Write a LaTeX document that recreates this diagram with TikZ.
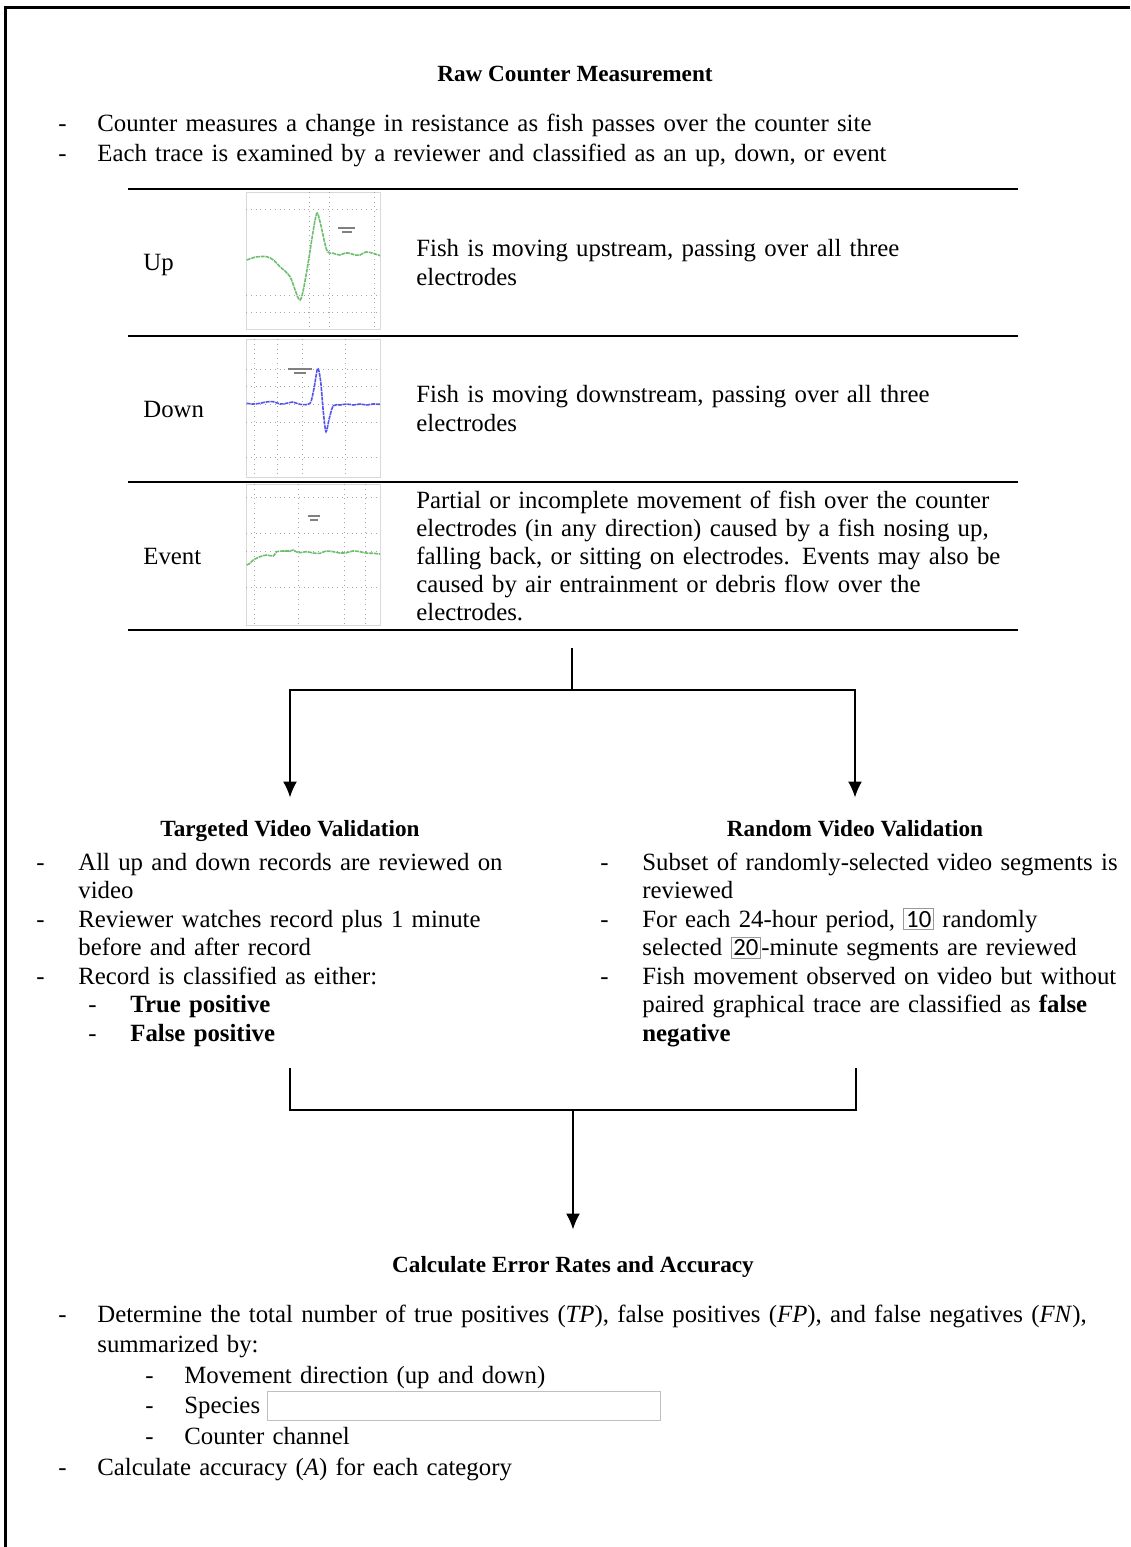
\documentclass[tikz,border=0pt]{standalone}
\usepackage{fontspec}
\setmainfont{Liberation Serif}
\setsansfont{Carlito}
\usepackage{tikz}
\usetikzlibrary{arrows,arrows.meta,shapes,positioning}
\usetikzlibrary{calc}
\tikzstyle{heading}    = [anchor=base, font=\fontsize{11.6}{14}\selectfont\bfseries, inner sep=0pt, text height=7pt, text depth=2pt]
\tikzstyle{bodytext}   = [anchor=base west, inner sep=0pt, align=left, text width=560pt, font=\fontsize{12.4}{14.5}\selectfont]
\tikzstyle{tablerule}  = [line width=0.75pt]
\tikzstyle{frameline}  = [line width=1.5pt]
\tikzstyle{link}       = [line width=1pt]
\tikzstyle{arrow}      = [line width=1pt, -{Latex[length=8pt,width=7pt]}]
\tikzstyle{tracebox}   = [rectangle, draw=black!15, line width=0.5pt, minimum width=67pt, inner sep=0pt]
\tikzstyle{gridline}   = [black!35, dotted, line width=0.4pt]
\tikzstyle{tracecurve} = [line width=0.8pt, dashed, dash pattern=on 2pt off 0.4pt]
\tikzstyle{tracelabel} = [black!50, line width=0.6pt]
\definecolor{traceup}{RGB}{110,190,110}
\definecolor{tracedown}{RGB}{85,85,235}
\newcommand{\dashitem}[2][19.5pt]{\hangindent=#1\hangafter=1\noindent\makebox[#1][l]{-}#2\par}
\newcommand{\subdash}[3]{\noindent\hspace*{#1}\makebox[#2][l]{-}#3\par}
\newcommand{\numbox}[1]{{\setlength{\fboxsep}{1pt}\setlength{\fboxrule}{0.4pt}\color{black!40}\fbox{\color{black}\sffamily #1}}}

\begin{document}
\begin{tikzpicture}[x=0.5pt, y=-0.5pt]
            \useasboundingbox (0,0) rectangle (1130,1547);
            \draw [frameline] (5,1547) -- (5,7) -- (1130,7);
            %Raw counter part
            \node (rawhead) [heading] at (575,81) {Raw Counter Measurement};
            \node (rawlist) [bodytext, font=\fontsize{12.4}{15}\selectfont] at (58,131) {%
              \dashitem{Counter measures a change in resistance as fish passes over the counter site}%
              \dashitem{Each trace is examined by a reviewer and classified as an up, down, or event}};
            \foreach \y in {189,336,482,630}
              \draw [tablerule] (128,\y) -- (1018,\y);
            \node (uplabel)    [bodytext] at (143,270) {Up};
            \node (downlabel)  [bodytext] at (143,417) {Down};
            \node (eventlabel) [bodytext] at (143,564) {Event};
            \node (updesc)     [bodytext] at (416,256) {Fish is moving upstream, passing over all three\\electrodes};
            \node (downdesc)   [bodytext] at (416,402) {Fish is moving downstream, passing over all three\\electrodes};
            \node (eventdesc)  [bodytext, font=\fontsize{12.4}{14.1}\selectfont] at (416,508) {Partial or incomplete movement of fish over the counter\\electrodes (in any direction) caused by a fish nosing up,\\falling back, or sitting on electrodes. Events may also be\\caused by air entrainment or debris flow over the\\electrodes.};
            %Trace pictures
            \node (uptrace)    [tracebox, minimum height=68.5pt] at (313,260.5) {};
            \node (downtrace)  [tracebox, minimum height=69pt]   at (313,408)   {};
            \node (eventtrace) [tracebox, minimum height=70.5pt] at (313,554.5) {};
            \foreach \y in {209,295,312} \draw [gridline] (246,\y) -- (380,\y);
            \foreach \x in {309,329,374} \draw [gridline] (\x,192) -- (\x,329);
            \draw [tracelabel] (338,228) -- (355,228) (342,232) -- (352,232);
            \draw [tracecurve, traceup] plot[smooth, tension=0.5] coordinates {(246.7,260) (256,257) (266.7,256.7) (273.3,260) (280,266.7) (290,276.7) (298.3,298.3) (301.7,296.7) (306.7,271.7) (316,215.7) (320,221.7) (326.7,250) (333.3,253.3) (340,255) (345,253) (350,253.3) (355,255) (360,255) (366,252) (373.3,253.3) (380,255.7)};
            \foreach \y in {369,386.7,404.3,422.3,457.7} \draw [gridline] (246,\y) -- (380,\y);
            \foreach \x in {254,277.3,302.7,345} \draw [gridline] (\x,339) -- (\x,477);
            \draw [tracelabel] (288,369) -- (312,369) (294,373) -- (306,373);
            \draw [tracecurve, tracedown] plot[smooth, tension=0.5] coordinates {(246.7,403.3) (253,404) (260,403.3) (266,402) (273.3,401.7) (280,404) (286.7,403.3) (293,402) (300,404.3) (310,403.3) (314,388.3) (317.7,368.3) (320.7,381.7) (323.3,411.7) (326,431.7) (329.3,418.3) (333.3,405.7) (340,405) (347,404) (353.3,405) (360,404) (366.7,405) (373,404) (380,404.3)};
            \foreach \y in {497.3,533.3,551.7,587.3} \draw [gridline] (246,\y) -- (380,\y);
            \foreach \x in {254,298.3,344,365} \draw [gridline] (\x,484) -- (\x,625);
            \draw [tracelabel] (308,516) -- (320,516) (310,520) -- (318,520);
            \draw [tracecurve, traceup] plot[smooth, tension=0.5] coordinates {(246.7,565) (250,563.3) (253.3,560) (260,556.7) (266.7,555) (273.3,556) (276.7,551.7) (283,551) (290,551) (293.3,550) (298.3,552.7) (306.7,551.7) (313,553) (320,553.3) (326,551) (333.3,551.7) (340,553) (346.7,552.7) (353,551) (360,551.7) (366,553) (373.3,553.3) (380,554)};
            %Split to the two validations
            \node (targethead) [heading] at (290,836) {Targeted Video Validation};
            \node (randomhead) [heading] at (855,836) {Random Video Validation};
            \coordinate (tablebottom) at (572,648);
            \coordinate (splitmid)    at (572,690);
            \draw [link] (tablebottom) -- (splitmid);
            \draw [arrow, shorten >=12pt] (splitmid) -| (targethead.north);
            \draw [arrow, shorten >=12pt] (splitmid) -| (randomhead.north);
            \node (targetlist) [bodytext, font=\fontsize{12.4}{14.25}\selectfont] at (36,870) {%
              \dashitem[21pt]{All up and down records are reviewed on\newline video}%
              \dashitem[21pt]{Reviewer watches record plus 1 minute\newline before and after record}%
              \dashitem[21pt]{Record is classified as either:}%
              \subdash{26pt}{21pt}{\textbf{True positive}}%
              \subdash{26pt}{21pt}{\textbf{False positive}}};
            \node (randomlist) [bodytext, font=\fontsize{12.4}{14.25}\selectfont] at (600,870) {%
              \dashitem[21pt]{Subset of randomly-selected video segments is\newline reviewed}%
              \dashitem[21pt]{For each 24-hour period, \numbox{10} randomly\newline selected \numbox{20}-minute segments are reviewed}%
              \dashitem[21pt]{Fish movement observed on video but without\newline paired graphical trace are classified as \textbf{false}\newline \textbf{negative}}};
            %Merge to error rates
            \node (calchead) [heading] at (573,1272) {Calculate Error Rates and Accuracy};
            \coordinate (targetend) at (290,1068);
            \coordinate (randomend) at (856,1068);
            \coordinate (mergemid)  at (573,1110);
            \draw [link] (targetend) |- (mergemid) -| (randomend);
            \draw [arrow, shorten >=14pt] (mergemid) -- (calchead.north);
            \node (calclist) [bodytext, font=\fontsize{12.4}{15.3}\selectfont] at (58,1322) {%
              \dashitem{Determine the total number of true positives (\textit{TP}), false positives (\textit{FP}), and false negatives (\textit{FN}),\newline summarized by:}%
              \subdash{43.5pt}{19.5pt}{Movement direction (up and down)}%
              \subdash{43.5pt}{19.5pt}{Species}%
              \subdash{43.5pt}{19.5pt}{Counter channel}%
              \dashitem{Calculate accuracy (\textit{A}) for each category}};
            \node (speciesbox) [rectangle, draw=black!25, line width=0.5pt, minimum width=196.5pt, minimum height=14.5pt, inner sep=0pt] at (463.5,1405.5) {};
        \end{tikzpicture}
\end{document}
